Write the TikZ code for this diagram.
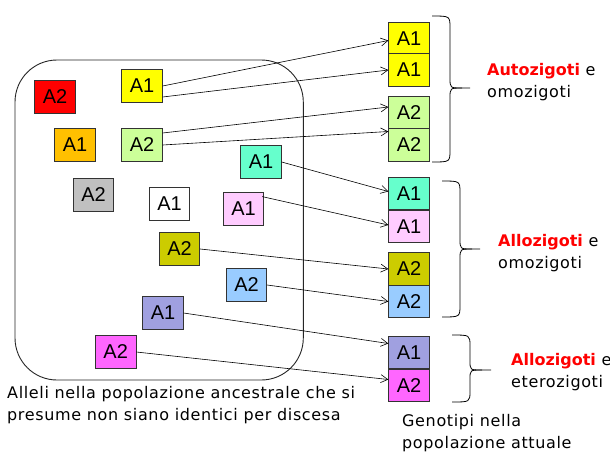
\documentclass[tikz,border=0pt]{standalone}
\usepackage{fontspec}
\setmainfont{DejaVu Sans}[LetterSpace=4, BoldFeatures={LetterSpace=0}]
\newfontfamily\boxfont{Liberation Sans}
\usetikzlibrary{arrows.meta,calc}
\definecolor{cRed}{HTML}{FF0000}
\definecolor{cYel}{HTML}{FFFF00}
\definecolor{cOra}{HTML}{FFC000}
\definecolor{cLgr}{HTML}{CCFF99}
\definecolor{cTea}{HTML}{66FFCC}
\definecolor{cGra}{HTML}{C0C0C0}
\definecolor{cPin}{HTML}{FFCCFF}
\definecolor{cOli}{HTML}{CCCC00}
\definecolor{cBlu}{HTML}{99CCFF}
\definecolor{cPur}{HTML}{A0A0E0}
\definecolor{cMag}{HTML}{FF66FF}
\definecolor{cLbl}{HTML}{FF0000}
\begin{document}
\begin{tikzpicture}[x=1pt,y=-1pt,
  allele/.style={draw=black!80, line width=0.8pt, minimum width=40.5pt, minimum height=33pt, inner sep=0pt, font=\boxfont\fontsize{20}{20}\selectfont},
  rallele/.style={allele, minimum height=32.5pt},
  link/.style={line width=0.6pt, -{Straight Barb[length=7pt,width=8pt]}},
  bracepath/.style={line width=0.8pt},
  lbl/.style={font=\fontsize{16}{22}\selectfont, align=left, anchor=base west, inner sep=0pt}]
\useasboundingbox (0,0) rectangle (610,453);

% population boundary
\draw[rounded corners=42pt, line width=0.9pt, draw=black!85] (15,60) rectangle (303.3,380);

% ancestral alleles
\node[allele, fill=cRed] (rL) at (55,97) {A2};
\node[allele, fill=cYel] (yL) at (142,86) {A1};
\node[allele, fill=cOra] (oL) at (75,145) {A1};
\node[allele, fill=cLgr] (gL) at (142,145) {A2};
\node[allele, fill=cTea] (tL) at (261,162) {A1};
\node[allele, fill=cGra] (grL) at (93.5,194.5) {A2};
\node[allele, fill=white] (wL) at (169.5,204) {A1};
\node[allele, fill=cPin] (pL) at (243.5,209) {A1};
\node[allele, fill=cOli] (olL) at (179.5,249) {A2};
\node[allele, fill=cBlu] (bL) at (246.5,285) {A2};
\node[allele, fill=cPur] (puL) at (163,313) {A1};
\node[allele, fill=cMag] (mL) at (115.7,352) {A2};

% current genotypes
\node[rallele, fill=cYel] (yR1) at (409,38.5) {A1};
\node[rallele, fill=cYel] (yR2) at (409,70) {A1};
\node[rallele, fill=cLgr] (gR1) at (409,112.5) {A2};
\node[rallele, fill=cLgr] (gR2) at (409,145) {A2};
\node[rallele, fill=cTea] (tR) at (409,193.5) {A1};
\node[rallele, fill=cPin] (pR) at (409,226.5) {A1};
\node[rallele, fill=cOli] (olR) at (409,269) {A2};
\node[rallele, fill=cBlu] (bR) at (409,301.5) {A2};
\node[rallele, fill=cPur] (puR) at (409,352.5) {A1};
\node[rallele, fill=cMag] (mR) at (409,385.5) {A2};

% connectors
\draw[link] (yL.east) -- ($(yR1.west)+(0,2)$);
\draw[link] ($(yL.east)+(0,11)$) -- (yR2.west);
\draw[link] ($(gL.east)+(0,-12)$) -- ($(gR1.west)+(0,-5.5)$);
\draw[link] (gL.east) -- ($(gR2.west)+(0,-13.5)$);
\draw[link] (tL.east) -- ($(tR.west)+(0,-2)$);
\draw[link] ($(pL.north east)+(-2,4.5)$) -- ($(pR.west)+(0,-1.5)$);
\draw[link] (olL.east) -- (olR.west);
\draw[link] (bL.east) -- (bR.west);
\draw[link] (puL.east) -- ($(puR.west)+(0,-9)$);
\draw[link] (mL.east) -- ($(mR.west)+(0,-6)$);

% braces
\draw[bracepath] (432,16) .. controls (450,16) .. (450,28) -- (450,78) .. controls (450,88) .. (462,88) -- (470,88);
\draw[bracepath] (462,88) .. controls (450,88) .. (450,98) -- (450,150) .. controls (450,162) .. (432,162);
\draw[bracepath] (442,181) .. controls (460,181) .. (460,193) -- (460,239) .. controls (460,249) .. (472,249) -- (480,249);
\draw[bracepath] (472,249) .. controls (460,249) .. (460,259) -- (460,305) .. controls (460,317) .. (442,317);
\draw[bracepath] (452,335) .. controls (470,335) .. (470,346) -- (470,361) .. controls (470,370) .. (482,370) -- (491,370);
\draw[bracepath] (482,370) .. controls (470,370) .. (470,379) -- (470,391) .. controls (470,402) .. (452,402);

% labels (anchor = baseline of last line)
\node[lbl] (l1) at (487,97) {\textcolor{cLbl}{\bfseries Autozigoti} e\\omozigoti};
\node[lbl] (l2) at (498,268) {\textcolor{cLbl}{\bfseries Allozigoti} e\\omozigoti};
\node[lbl] (l3) at (511,387) {\textcolor{cLbl}{\bfseries Allozigoti} e\\eterozigoti};
\node[lbl] (l4) at (402,448) {Genotipi nella\\popolazione attuale};
\node[lbl] (l5) at (7,420) {Alleli nella popolazione ancestrale che si\\presume non siano identici per discesa};
\end{tikzpicture}
\end{document}
